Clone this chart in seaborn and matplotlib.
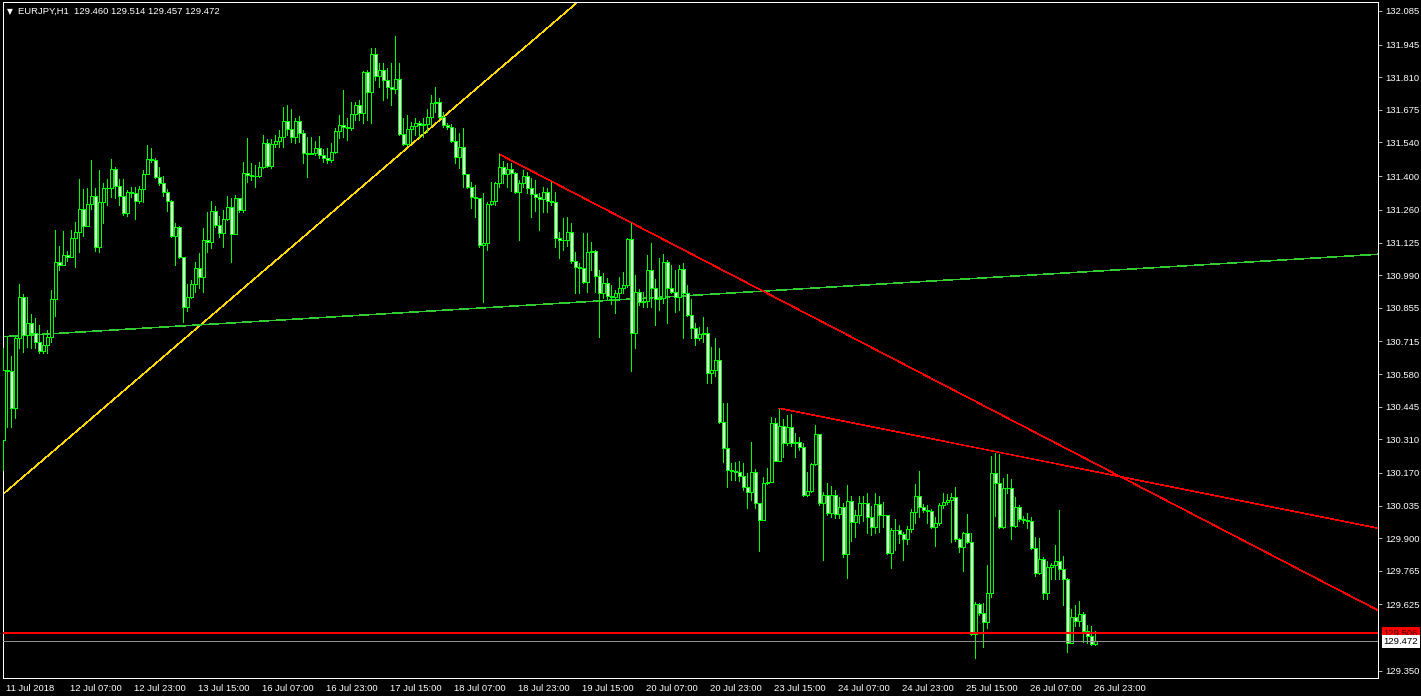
#!/usr/bin/env python3
"""EURJPY H1 candlestick chart in the MT4 'green on black' look."""
import matplotlib
matplotlib.use('Agg')
import matplotlib.pyplot as plt
import matplotlib.transforms as mtransforms
import seaborn as sns
import numpy as np
import pandas as pd

SYMBOL = "EURJPY,H1"
FIRST_OPEN = 130.307

# hourly closes / highs / lows (open = previous close)
closes = [
    130.597, 130.593, 130.439, 130.730, 130.899, 130.742, 130.792, 130.750, 130.713, 130.676,
    130.701, 130.734, 130.891, 131.045, 131.032, 131.073, 131.065, 131.144, 131.169, 131.264,
    131.193, 131.284, 131.318, 131.106, 131.293, 131.351, 131.349, 131.430, 131.359, 131.318,
    131.248, 131.335, 131.331, 131.297, 131.347, 131.409, 131.471, 131.467, 131.396, 131.372,
    131.335, 131.297, 131.152, 131.189, 131.065, 130.858, 130.899, 130.953, 131.020, 130.982,
    131.135, 131.127, 131.256, 131.198, 131.164, 131.222, 131.272, 131.160, 131.309, 131.260,
    131.413, 131.405, 131.401, 131.399, 131.438, 131.537, 131.442, 131.533, 131.546, 131.562,
    131.629, 131.595, 131.562, 131.629, 131.579, 131.496, 131.494, 131.496, 131.517, 131.488,
    131.475, 131.467, 131.500, 131.587, 131.612, 131.604, 131.600, 131.658, 131.695, 131.662,
    131.832, 131.749, 131.906, 131.815, 131.840, 131.798, 131.769, 131.761, 131.802, 131.575,
    131.533, 131.595, 131.608, 131.620, 131.612, 131.618, 131.645, 131.703, 131.707, 131.645,
    131.612, 131.604, 131.546, 131.479, 131.521, 131.409, 131.355, 131.314, 131.309, 131.115,
    131.123, 131.284, 131.297, 131.372, 131.438, 131.409, 131.430, 131.413, 131.335, 131.372,
    131.401, 131.351, 131.326, 131.314, 131.306, 131.335, 131.297, 131.295, 131.144, 131.135,
    131.137, 131.169, 131.049, 131.024, 131.020, 130.962, 131.086, 131.090, 130.986, 130.916,
    130.957, 130.903, 130.899, 130.916, 130.937, 130.949, 131.139, 130.750, 130.920, 130.878,
    130.883, 131.011, 130.937, 130.891, 130.895, 131.045, 130.937, 130.920, 130.899, 131.016,
    130.916, 130.825, 130.771, 130.730, 130.746, 130.750, 130.584, 130.597, 130.638, 130.381,
    130.274, 130.182, 130.178, 130.174, 130.157, 130.112, 130.091, 130.174, 130.046, 129.975,
    130.128, 130.132, 130.377, 130.220, 130.365, 130.294, 130.361, 130.294, 130.298, 130.278,
    130.079, 130.095, 130.207, 130.332, 130.046, 130.079, 130.004, 130.079, 130.000, 130.029,
    129.834, 130.054, 129.967, 129.996, 130.046, 130.044, 129.988, 129.946, 130.042, 129.996,
    129.994, 129.838, 129.934, 129.932, 129.917, 129.896, 129.938, 130.009, 130.074, 130.029,
    130.017, 130.013, 129.946, 129.963, 130.037, 130.050, 130.058, 130.070, 129.896, 129.863,
    129.921, 129.884, 129.503, 129.627, 129.590, 129.553, 129.673, 130.170, 130.128, 129.946,
    130.108, 130.106, 129.950, 130.029, 129.979, 129.975, 129.971, 129.859, 129.756, 129.814,
    129.673, 129.780, 129.789, 129.805, 129.772, 129.731, 129.466, 129.573, 129.557, 129.586,
    129.515, 129.494, 129.461, 129.472,
]
highs = [
    130.688, 130.734, 130.655, 130.734, 130.953, 130.912, 130.899, 130.829, 130.812, 130.783,
    130.742, 130.763, 130.928, 131.177, 131.110, 131.173, 131.090, 131.177, 131.210, 131.388,
    131.347, 131.351, 131.467, 131.351, 131.426, 131.372, 131.388, 131.471, 131.438, 131.388,
    131.388, 131.343, 131.355, 131.355, 131.359, 131.426, 131.529, 131.517, 131.475, 131.438,
    131.401, 131.347, 131.301, 131.206, 131.193, 131.065, 130.953, 130.970, 131.045, 131.082,
    131.185, 131.251, 131.297, 131.276, 131.235, 131.260, 131.318, 131.309, 131.322, 131.309,
    131.459, 131.558, 131.454, 131.446, 131.459, 131.571, 131.554, 131.554, 131.571, 131.591,
    131.687, 131.695, 131.678, 131.641, 131.649, 131.591, 131.562, 131.562, 131.546, 131.567,
    131.513, 131.517, 131.537, 131.600, 131.654, 131.757, 131.641, 131.707, 131.707, 131.716,
    131.836, 131.840, 131.931, 131.931, 131.869, 131.869, 131.848, 131.869, 131.981, 131.869,
    131.641, 131.654, 131.624, 131.641, 131.629, 131.641, 131.678, 131.736, 131.769, 131.724,
    131.666, 131.620, 131.616, 131.600, 131.579, 131.600, 131.409, 131.376, 131.363, 131.309,
    131.330, 131.293, 131.376, 131.376, 131.492, 131.463, 131.454, 131.454, 131.417, 131.384,
    131.426, 131.417, 131.392, 131.384, 131.330, 131.355, 131.351, 131.376, 131.335, 131.169,
    131.227, 131.231, 131.206, 131.086, 131.040, 131.164, 131.164, 131.127, 131.094, 131.011,
    130.999, 130.978, 130.949, 130.928, 130.982, 131.003, 131.144, 131.206, 130.990, 130.932,
    130.920, 131.073, 131.123, 130.974, 131.061, 131.078, 131.053, 131.032, 131.011, 131.032,
    131.040, 130.949, 130.891, 130.792, 130.775, 130.816, 130.775, 130.692, 130.730, 130.688,
    130.460, 130.460, 130.211, 130.215, 130.220, 130.211, 130.170, 130.298, 130.187, 130.046,
    130.153, 130.191, 130.402, 130.398, 130.435, 130.394, 130.410, 130.414, 130.336, 130.319,
    130.294, 130.174, 130.211, 130.369, 130.332, 130.091, 130.128, 130.116, 130.099, 130.070,
    130.046, 130.120, 130.074, 130.017, 130.074, 130.074, 130.087, 130.033, 130.087, 130.074,
    130.050, 129.988, 129.942, 129.979, 129.954, 129.925, 129.950, 130.021, 130.124, 130.178,
    130.042, 130.037, 130.021, 129.988, 130.046, 130.087, 130.083, 130.087, 130.112, 129.900,
    129.925, 130.000, 129.921, 129.636, 129.631, 129.631, 129.789, 130.240, 130.253, 130.249,
    130.149, 130.166, 130.145, 130.070, 130.037, 129.992, 130.004, 129.988, 129.905, 129.900,
    129.822, 129.805, 129.797, 129.872, 130.017, 129.826, 129.735, 129.607, 129.623, 129.640,
    129.594, 129.540, 129.536, 129.514,
]
lows = [
    130.182, 130.361, 130.361, 130.398, 130.688, 130.671, 130.692, 130.688, 130.688, 130.667,
    130.667, 130.667, 130.713, 130.821, 131.011, 131.032, 131.049, 131.065, 131.024, 131.086,
    131.152, 131.193, 131.264, 131.090, 131.086, 131.206, 131.280, 131.314, 131.309, 131.280,
    131.239, 131.235, 131.314, 131.222, 131.289, 131.293, 131.417, 131.459, 131.392, 131.363,
    131.318, 131.256, 131.148, 131.032, 131.061, 130.796, 130.841, 130.895, 130.920, 130.937,
    130.920, 131.086, 131.103, 131.189, 131.148, 131.106, 131.218, 131.045, 131.222, 131.251,
    131.251, 131.376, 131.384, 131.355, 131.396, 131.434, 131.438, 131.434, 131.521, 131.521,
    131.521, 131.571, 131.542, 131.537, 131.542, 131.454, 131.396, 131.492, 131.488, 131.475,
    131.459, 131.454, 131.459, 131.496, 131.558, 131.562, 131.550, 131.591, 131.633, 131.633,
    131.620, 131.633, 131.620, 131.798, 131.769, 131.716, 131.724, 131.695, 131.744, 131.571,
    131.529, 131.529, 131.542, 131.571, 131.562, 131.562, 131.583, 131.612, 131.666, 131.641,
    131.604, 131.595, 131.542, 131.454, 131.434, 131.355, 131.351, 131.268, 131.231, 131.106,
    130.879, 131.094, 131.280, 131.280, 131.355, 131.372, 131.355, 131.338, 131.330, 131.135,
    131.355, 131.330, 131.231, 131.256, 131.177, 131.251, 131.251, 131.280, 131.106, 131.061,
    131.094, 131.110, 131.040, 130.916, 130.916, 130.958, 130.920, 131.011, 130.920, 130.734,
    130.895, 130.891, 130.870, 130.833, 130.887, 130.916, 130.941, 130.593, 130.688, 130.866,
    130.858, 130.858, 130.858, 130.783, 130.845, 130.874, 130.792, 130.916, 130.837, 130.845,
    130.730, 130.821, 130.730, 130.701, 130.721, 130.713, 130.543, 130.543, 130.572, 130.377,
    130.216, 130.112, 130.141, 130.141, 130.137, 130.099, 130.025, 130.058, 130.025, 129.847,
    129.975, 130.124, 130.137, 130.220, 130.220, 130.236, 130.286, 130.282, 130.236, 130.265,
    130.074, 130.074, 130.091, 130.203, 130.037, 129.809, 129.996, 129.988, 129.984, 129.984,
    129.822, 129.735, 129.888, 129.905, 129.963, 129.971, 129.921, 129.913, 129.921, 129.925,
    129.946, 129.834, 129.776, 129.851, 129.880, 129.809, 129.876, 129.925, 129.963, 129.988,
    130.009, 129.963, 129.942, 129.867, 129.954, 130.025, 130.042, 129.884, 129.888, 129.843,
    129.764, 129.880, 129.499, 129.403, 129.582, 129.449, 129.528, 129.656, 129.992, 129.942,
    129.942, 130.087, 129.896, 129.946, 129.971, 129.963, 129.942, 129.855, 129.743, 129.752,
    129.648, 129.648, 129.731, 129.731, 129.731, 129.623, 129.428, 129.466, 129.536, 129.536,
    129.470, 129.466, 129.457, 129.457,
]
last_open = 129.460

tick_bars = list(range(0, 273, 16))
tick_labels = ["11 Jul 2018", "12 Jul 07:00", "12 Jul 23:00", "13 Jul 15:00", "16 Jul 07:00",
               "16 Jul 23:00", "17 Jul 15:00", "18 Jul 07:00", "18 Jul 23:00", "19 Jul 15:00",
               "20 Jul 07:00", "20 Jul 23:00", "23 Jul 15:00", "24 Jul 07:00", "24 Jul 23:00",
               "25 Jul 15:00", "26 Jul 07:00", "26 Jul 23:00"]
price_ticks = [132.085, 131.945, 131.810, 131.675, 131.540, 131.400, 131.260, 131.125,
               130.990, 130.855, 130.715, 130.580, 130.445, 130.310, 130.170, 130.035,
               129.900, 129.765, 129.625, 129.350]
ask_level = 129.506
bid_level = 129.472

# trend lines as (bar, price) anchor pairs
yellow_line = [(0, 130.083), (100, 131.503)]
green_line = [(0, 130.735), (300, 131.033)]
red_line_1 = [(124, 131.491), (200, 130.837)]
red_line_2 = [(194, 130.438), (250, 130.252)]

XMIN, XMAX = -0.08, 343.7
YMIN, YMAX = 129.320, 132.122

LIME = '#00ff00'
THIN = 0.5  # one device pixel at 100 dpi with antialiasing off

sns.set_style("dark", {"axes.facecolor": "black", "figure.facecolor": "black",
                       "axes.edgecolor": "white", "text.color": "white",
                       "xtick.color": "white", "ytick.color": "white"})
plt.rcParams['font.family'] = ['Liberation Sans', 'DejaVu Sans']
plt.rcParams['lines.antialiased'] = False
plt.rcParams['patch.antialiased'] = False

W, H = 1421, 696
fig = plt.figure(figsize=(W / 100, H / 100), dpi=100)
ax = fig.add_axes([3 / W, 18 / H, 1375 / W, 676 / H])
ax.set_facecolor('black')

df = pd.DataFrame({"close": closes, "high": highs, "low": lows})
df["open"] = [FIRST_OPEN] + closes[:-1]
df.loc[df.index[-1], "open"] = last_open
df["high"] = df[["high", "open", "close"]].max(axis=1)
df["low"] = df[["low", "open", "close"]].min(axis=1)
x = np.arange(len(df))

# wicks
ax.vlines(x, df["low"], df["high"], color=LIME, linewidth=THIN, antialiased=False, zorder=3)
# bodies: bull = black fill, bear = white fill
up = df["close"] >= df["open"]
body = (df["close"] - df["open"]).abs().clip(lower=0.0005)
bottom = df[["open", "close"]].min(axis=1)
ax.bar(x[up], body[up], bottom=bottom[up], width=0.7, color='black',
       edgecolor=LIME, linewidth=THIN, zorder=4)
ax.bar(x[~up], body[~up], bottom=bottom[~up], width=0.7, color='white',
       edgecolor=LIME, linewidth=THIN, zorder=4)


def ray(anchors, start, end):
    (b0, p0), (b1, p1) = anchors
    slope = (p1 - p0) / (b1 - b0)
    xs = [start, end]
    return pd.DataFrame({"bar": xs, "price": [p0 + slope * (v - b0) for v in xs]})


for anchors, start, color in [(yellow_line, XMIN, '#ffd700'), (green_line, XMIN, '#32cd32'),
                              (red_line_1, red_line_1[0][0], '#ff0000'),
                              (red_line_2, red_line_2[0][0], '#ff0000')]:
    sns.lineplot(data=ray(anchors, start, XMAX), x="bar", y="price", ax=ax, color=color,
                 linewidth=0.4, estimator=None, legend=False, zorder=2, antialiased=False)

ax.axhline(ask_level, color='#ff0000', linewidth=1.2, zorder=5)
ax.axhline(bid_level, color='#909094', linewidth=THIN, zorder=5)

ax.set_xlim(XMIN, XMAX)
ax.set_ylim(YMIN, YMAX)
ax.set_xlabel("")
ax.set_ylabel("")
ax.grid(False)
for s in ax.spines.values():
    s.set_color('white')
    s.set_linewidth(0.6)
    s.set_visible(True)

ax.yaxis.tick_right()
ax.set_yticks(price_ticks)
ax.set_yticklabels([f"{p:.3f}" for p in price_ticks])
ax.tick_params(axis='y', direction='out', length=3, width=THIN, pad=2,
               labelsize=6.8, colors='white')
ax.set_xticks(tick_bars)
ax.set_xticklabels(tick_labels, ha='left')
ax.tick_params(axis='x', direction='out', length=4, width=THIN, pad=0.5,
               labelsize=6.8, colors='white')
shift = mtransforms.ScaledTranslation(2 / 72, 0, fig.dpi_scale_trans)
for lab in ax.get_xticklabels():
    lab.set_transform(lab.get_transform() + shift)

# current price boxes on the right scale
for level, fc, tc in [(ask_level, '#ff0000', '#400000'), (bid_level, 'white', 'black')]:
    ax.annotate(f"{level:.3f}", xy=(1, level), xycoords=('axes fraction', 'data'),
                xytext=(4, 0), textcoords='offset points', ha='left', va='center',
                fontsize=6.8, color=tc, annotation_clip=False,
                bbox=dict(boxstyle='square,pad=0.2', fc=fc, ec='none'))

ohlc = [last_open, highs[-1], lows[-1], closes[-1]]
ax.text(0.003, 0.986, "\u25bc", transform=ax.transAxes, fontsize=5.5, color='white',
        va='center', ha='left', family=['DejaVu Sans'])
ax.text(0.011, 0.986, f"{SYMBOL}  " + " ".join(f"{v:.3f}" for v in ohlc),
        transform=ax.transAxes, fontsize=6.8, color='white', va='center', ha='left')

fig.savefig('out.png', dpi=100, facecolor='black')
